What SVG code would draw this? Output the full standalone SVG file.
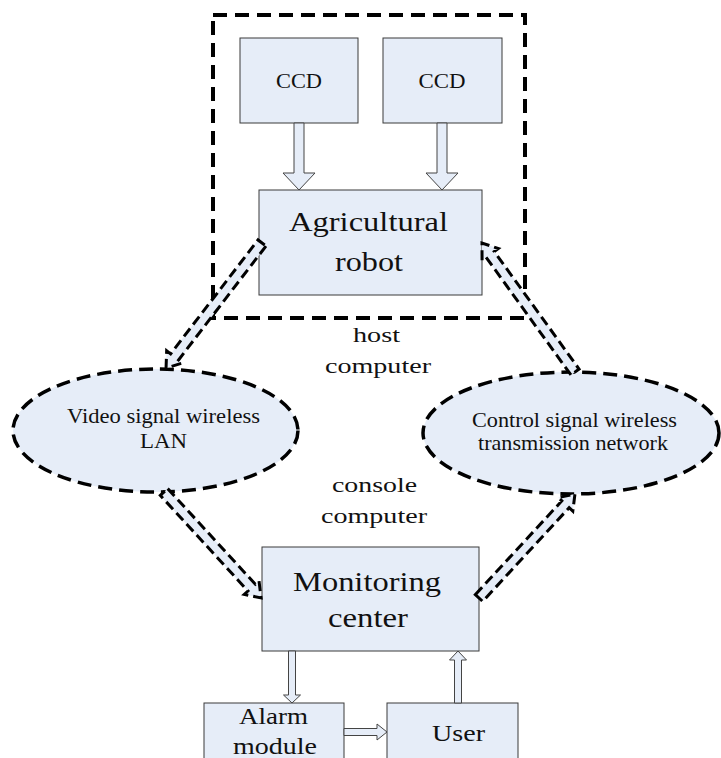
<svg xmlns="http://www.w3.org/2000/svg" width="721" height="758" viewBox="0 0 721 758">
<style>
.box{fill:#e6edf8;stroke:#3a3a3a;stroke-width:1}
.ell{fill:#e6edf8;stroke:#000;stroke-width:3.5;stroke-dasharray:14 7}
.frame{fill:none;stroke:#000;stroke-width:4;stroke-dasharray:14 8}
.harrow{fill:#e6edf8;stroke:#444;stroke-width:1}
.darrow{fill:#e6edf8;stroke:#000;stroke-width:3;stroke-dasharray:10 5;stroke-linejoin:miter}
text{font-family:"Liberation Serif","Times New Roman",serif;fill:#111;text-anchor:middle}
</style>
<rect id="host-frame" class="frame" x="213" y="15" width="312" height="303"/>
<g id="ccd1"><rect class="box" x="240" y="38" width="118" height="85"/><text x="299" y="88" font-size="21" textLength="46" lengthAdjust="spacingAndGlyphs">CCD</text></g>
<g id="ccd2"><rect class="box" x="383" y="38" width="119" height="85"/><text x="442" y="88" font-size="21" textLength="47" lengthAdjust="spacingAndGlyphs">CCD</text></g>
<g id="robot"><rect class="box" x="259" y="190" width="223" height="105"/><text x="368.5" y="231" font-size="28" textLength="159" lengthAdjust="spacingAndGlyphs">Agricultural</text><text x="369" y="271" font-size="28" textLength="68" lengthAdjust="spacingAndGlyphs">robot</text></g>
<g id="video-lan"><ellipse class="ell" cx="155.5" cy="430.5" rx="142.5" ry="61.5"/><text x="163.5" y="423" font-size="21" textLength="193" lengthAdjust="spacingAndGlyphs">Video signal wireless</text><text x="163.5" y="448" font-size="21" textLength="47" lengthAdjust="spacingAndGlyphs">LAN</text></g>
<g id="control-net"><ellipse class="ell" cx="571" cy="433" rx="148" ry="61"/><text x="574.5" y="427" font-size="21" textLength="205" lengthAdjust="spacingAndGlyphs">Control signal wireless</text><text x="573" y="450" font-size="21" textLength="190" lengthAdjust="spacingAndGlyphs">transmission network</text></g>
<g id="host-label"><text x="376.5" y="342" font-size="22" textLength="47" lengthAdjust="spacingAndGlyphs">host</text><text x="378" y="373" font-size="22" textLength="106" lengthAdjust="spacingAndGlyphs">computer</text></g>
<g id="console-label"><text x="374.5" y="492" font-size="22" textLength="85" lengthAdjust="spacingAndGlyphs">console</text><text x="374" y="523" font-size="22" textLength="106" lengthAdjust="spacingAndGlyphs">computer</text></g>
<g id="monitoring"><rect class="box" x="262" y="547" width="217" height="104"/><text x="367" y="591" font-size="27" textLength="148" lengthAdjust="spacingAndGlyphs">Monitoring</text><text x="368" y="627" font-size="27" textLength="80" lengthAdjust="spacingAndGlyphs">center</text></g>
<g id="alarm"><rect class="box" x="204" y="703" width="140" height="70"/><text x="273.5" y="724" font-size="23" textLength="69" lengthAdjust="spacingAndGlyphs">Alarm</text><text x="275" y="754" font-size="23" textLength="84" lengthAdjust="spacingAndGlyphs">module</text></g>
<g id="user"><rect class="box" x="387" y="703" width="131" height="70"/><text x="458.5" y="741" font-size="23" textLength="53" lengthAdjust="spacingAndGlyphs">User</text></g>
<g id="connectors">
<polygon class="harrow" points="294,123 304,123 304,173 315,173 299,190 283,173 294,173"/>
<polygon class="harrow" points="437,123 447,123 447,173 458,173 442,190 426,173 437,173"/>
<polygon class="harrow" points="288.5,651 295.5,651 295.5,695 300.5,695 292,703 283.5,695 288.5,695"/>
<polygon class="harrow" points="454.5,703 461.5,703 461.5,660 466.5,660 458,651 449.5,660 454.5,660"/>
<polygon class="harrow" points="344,728.5 377,728.5 377,724 387,732 377,740 377,735.5 344,735.5"/>
<g transform="translate(262,243) rotate(127.5)"><path class="darrow" d="M0,-5 H143.6 V-10 L157.6,0 L143.6,10 V5 H0 Z"/></g>
<g transform="translate(575,372) rotate(-125.8)"><path class="darrow" d="M0,-5 H145 V-10 L159,0 L145,10 V5 H0 Z"/></g>
<g transform="translate(164,492) rotate(47.5)"><path class="darrow" d="M0,-5 H129.7 V-10 L143.7,0 L129.7,10 V5 H0 Z"/></g>
<g transform="translate(479,598) rotate(-47.3)"><path class="darrow" d="M0,-5 H127.5 V-10 L141.5,0 L127.5,10 V5 H0 Z"/></g>
</g>
</svg>
